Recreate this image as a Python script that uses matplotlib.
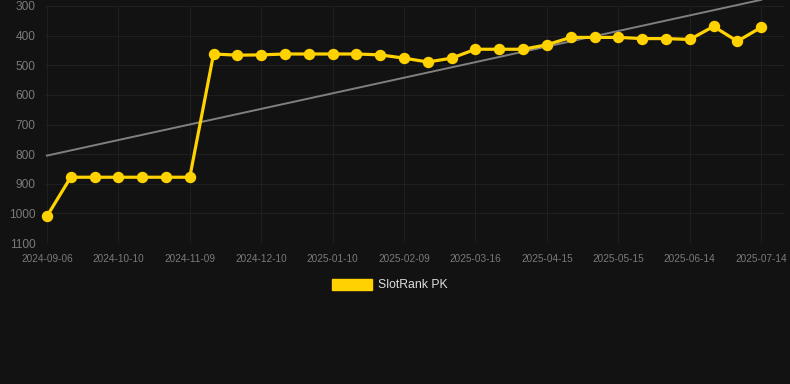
import numpy as np
import matplotlib.pyplot as plt
from matplotlib.patches import Patch

# rank per snapshot (lower is better), one point every ~10 days
ranks = [1010, 878, 878, 878, 878, 878, 878, 462, 466, 465, 462, 462, 462, 462, 465,
         476, 489, 476, 446, 446, 446, 431, 406, 406, 406, 410, 410, 413, 369, 419, 372]
tick_labels = ['2024-09-06', '2024-10-10', '2024-11-09', '2024-12-10', '2025-01-10',
               '2025-02-09', '2025-03-16', '2025-04-15', '2025-05-15', '2025-06-14',
               '2025-07-14']
series_name = 'SlotRank PK'

plt.rcParams['font.family'] = ['Liberation Sans', 'DejaVu Sans']

bg = '#121212'
gold = '#ffd200'

fig = plt.figure(figsize=(7.9, 3.84), dpi=100, facecolor=bg)
ax = fig.add_axes([45 / 790, 1 - 243 / 384, 740 / 790, 237 / 384])
ax.set_facecolor(bg)

x = np.arange(len(ranks))
y = np.array(ranks)

# linear trend
k, b = np.polyfit(x, y, 1)
ax.plot(x, k * x + b, color='#808080', lw=1.4, zorder=2, clip_on=False)

ax.plot(x, y, color=gold, lw=2.3, marker='o', markersize=7.2, zorder=3, clip_on=False)

ax.set_ylim(1100, 300)
ax.set_yticks(np.arange(300, 1101, 100))
ax.set_xlim(-0.08, 31.0)
ax.set_xticks(x[::3])
ax.set_xticklabels(tick_labels)

ax.grid(True, color='#1f1f1f', lw=0.8)
ax.set_axisbelow(True)
for s in ax.spines.values():
    s.set_visible(False)
ax.tick_params(axis='y', length=0, pad=7, labelsize=8.6, labelcolor='#7a7a7a')
ax.tick_params(axis='x', length=0, pad=8, labelsize=7.2, labelcolor='#7a7a7a')

fig.legend(handles=[Patch(facecolor=gold, edgecolor=gold, label=series_name)],
           loc='center', bbox_to_anchor=(0.493, 1 - 285 / 384), frameon=False,
           fontsize=8.8, labelcolor='#dddddd', handlelength=3.3, handleheight=1.0,
           handletextpad=0.45)

fig.savefig('out.png', dpi=100, facecolor=bg)
